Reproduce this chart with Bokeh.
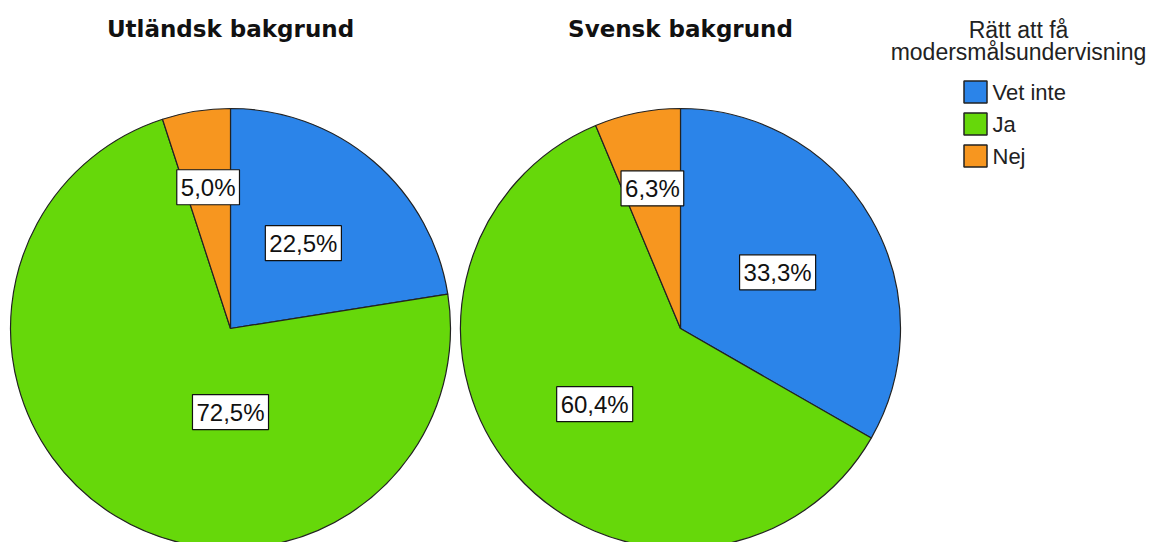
import math
from bokeh.plotting import figure
from bokeh.models import Range1d, Label
from bokeh.core.properties import value
from bokeh.embed import file_html
from bokeh.resources import INLINE

# ---- data ----
categories = ["Vet inte", "Ja", "Nej"]
colors = ["#2b84e9", "#66d80a", "#f7961f"]
groups = ["Utländsk bakgrund", "Svensk bakgrund"]
utlandsk = [22.5, 72.5, 5.0]
svensk = [33.3, 60.4, 6.3]
legend_title = ["Rätt att få", "modersmålsundervisning"]

# ---- layout (pixels) ----
W, H = 1157, 542
p = figure(width=W, height=H, output_backend="svg", toolbar_location=None,
           x_range=Range1d(0, W), y_range=Range1d(0, H), min_border=0)
p.axis.visible = False
p.grid.visible = False
p.outline_line_color = None
p.background_fill_color = "white"


def py(page_y):
    return H - page_y


def px(page_x):
    return page_x


R = 220
centers = [(px(230), py(328)), (px(680), py(328))]
label_frac = [0.51, 0.52, 0.65]
label_override = [{1: (math.pi, 0.38)}, {}]

for gi, vals in enumerate([utlandsk, svensk]):
    cx, cy = centers[gi]
    total = sum(vals)
    cum = 0.0
    starts, ends = [], []
    for v in vals:
        a0 = math.pi / 2 - 2 * math.pi * cum / total
        cum += v
        a1 = math.pi / 2 - 2 * math.pi * cum / total
        starts.append(a0)
        ends.append(a1)
    p.wedge(x=[cx] * 3, y=[cy] * 3, radius=R, start_angle=starts, end_angle=ends,
            direction="clock", fill_color=colors, line_color="#222222", line_width=1.2)
    for i, v in enumerate(vals):
        mid = (starts[i] + ends[i]) / 2
        frac = label_frac[i]
        if i in label_override[gi]:
            cw, frac = label_override[gi][i]
            mid = math.pi / 2 - cw
        lx = cx + frac * R * math.cos(mid)
        ly = cy + frac * R * math.sin(mid)
        txt = f"{v:.1f}".replace(".", ",") + "%"
        p.add_layout(Label(x=lx, y=ly, text=txt, text_align="center", text_baseline="middle",
                           text_font="Liberation Sans", text_font_size="24px",
                           text_color="#111111", background_fill_color="white",
                           border_line_color="#111111", border_line_width=1.2, padding=4))
    p.add_layout(Label(x=cx, y=py(28), text=groups[gi], text_align="center",
                       text_baseline="middle", text_font="DejaVu Sans",
                       text_font_style="bold", text_font_size="23px", text_color="#111111"))

# legend
for li, t in enumerate(legend_title):
    p.add_layout(Label(x=px(1018), y=py(29 + li * 22), text=t, text_align="center",
                       text_baseline="middle", text_font="Liberation Sans",
                       text_font_size="23px", text_color="#222222"))

sq_x = px(975)
sq_y = [py(91.5 + i * 32) for i in range(len(categories))]
p.rect(x=[sq_x] * 3, y=sq_y, width=23, height=22, fill_color=colors,
       line_color="#222222", line_width=1.5)
p.text(x=[px(992)] * 3, y=sq_y, text=categories, text_align="left",
       text_baseline="middle", text_font=value("Liberation Sans"),
       text_font_size="22px", text_color="#222222")

open("out.html", "w").write(file_html(p, INLINE))
